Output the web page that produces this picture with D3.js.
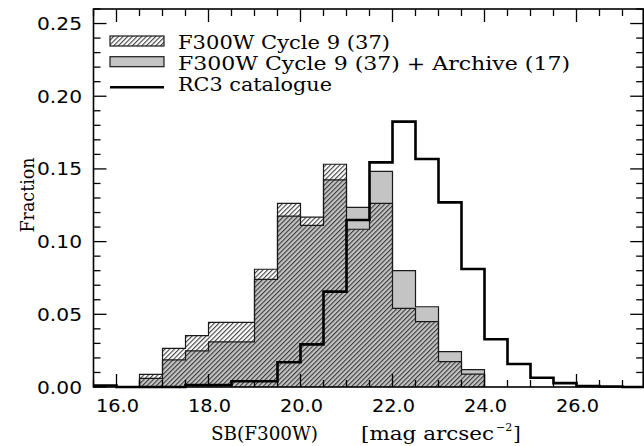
<!DOCTYPE html>
<html><head><meta charset="utf-8">
<script src="https://cdn.jsdelivr.net/npm/d3@7"></script>
<style>body{margin:0;background:#fff}</style>
</head><body>
<svg id="c" width="644" height="446" xmlns="http://www.w3.org/2000/svg"></svg>
<script>
// ---- data ----
const binStarts = [15.5,16.0,16.5,17.0,17.5,18.0,18.5,19.0,19.5,20.0,20.5,21.0,21.5,22.0,22.5,23.0,23.5,24.0,24.5,25.0,25.5,26.0,26.5,27.0];
const binWidth = 0.5;
const cycle9   = [0,0,0.0087,0.0266,0.0353,0.0445,0.0445,0.081,0.1263,0.1168,0.1532,0.1085,0.1263,0.0541,0.0449,0.0174,0.0089,0,0,0,0,0,0,0];
const combined = [0,0,0.0060,0.0186,0.0248,0.0310,0.0310,0.074,0.1176,0.1112,0.1424,0.1235,0.1483,0.0800,0.0552,0.0243,0.0120,0,0,0,0,0,0,0];
const rc3      = [0.001,0,0,0,0.0014,0.0014,0.004,0.004,0.017,0.0293,0.0656,0.1149,0.1545,0.1825,0.1568,0.127,0.0812,0.0328,0.0158,0.0064,0.0027,0.0007,0.0003,0];
const xMajor = [16,18,20,22,24,26];
const xMajorLabels = ["16.0","18.0","20.0","22.0","24.0","26.0"];
const yMajor = [0,0.05,0.10,0.15,0.20,0.25];
const yMajorLabels = ["0.00","0.05","0.10","0.15","0.20","0.25"];
const legendLabels = ["F300W Cycle 9 (37)","F300W Cycle 9 (37) + Archive (17)","RC3 catalogue"];

// ---- scales ----
const L=93.5, R=643.2, T=9, B=387;
const x = d3.scaleLinear().domain([15.5, 27.45]).range([L, R]);
const y = d3.scaleLinear().domain([0, 0.26]).range([B, T]);

const svg = d3.select("#c");
const defs = svg.append("defs");
const pat = defs.append("pattern").attr("id","hatch").attr("patternUnits","userSpaceOnUse")
  .attr("width",3.3).attr("height",10).attr("patternTransform","rotate(45)");
pat.append("line").attr("x1",0.6).attr("x2",0.6).attr("y1",-1).attr("y2",11)
  .attr("stroke","#222").attr("stroke-width",0.95);

function steps(vals, full){
  let idx = vals.map((v,i)=>i);
  if(!full){ idx = idx.filter(i=>vals[i]>0); }
  const i0 = idx[0], i1 = idx[idx.length-1];
  const pts = [[binStarts[i0],0]];
  for(let i=i0;i<=i1;i++){ pts.push([binStarts[i],vals[i]]); pts.push([binStarts[i]+binWidth,vals[i]]); }
  pts.push([binStarts[i1]+binWidth,0]);
  return pts;
}
const area = d3.area().x(d=>x(d[0])).y0(y(0)).y1(d=>y(d[1]));
const line = d3.line().x(d=>x(d[0])).y(d=>y(d[1]));

const plot = svg.append("g");
plot.append("path").attr("d",area(steps(combined))).attr("fill","#c4c4c4");
plot.append("path").attr("d",area(steps(cycle9))).attr("fill","url(#hatch)");
plot.append("path").attr("d",line(steps(combined))).attr("fill","none").attr("stroke","#1a1a1a").attr("stroke-width",1.2);
plot.append("path").attr("d",line(steps(cycle9))).attr("fill","none").attr("stroke","#1a1a1a").attr("stroke-width",1.2);
const rcPts = [];
binStarts.forEach((b,i)=>{ rcPts.push([b,rc3[i]]); rcPts.push([b+binWidth,rc3[i]]); });
plot.append("path").attr("d",line(rcPts)).attr("fill","none").attr("stroke","#000").attr("stroke-width",2.6).attr("stroke-linejoin","miter");

// ---- ticks ----
const tk = svg.append("g").attr("stroke","#000").attr("stroke-width",1.3);
const xMinor = d3.range(31,55).map(k=>k/2).filter(v=>v<=27.45);
xMinor.forEach(v=>{
  const len = (v%2===0)?13:7;
  tk.append("line").attr("x1",x(v)).attr("x2",x(v)).attr("y1",B).attr("y2",B-len);
  tk.append("line").attr("x1",x(v)).attr("x2",x(v)).attr("y1",T).attr("y2",T+len);
});
const yMinor = d3.range(0,27).map(k=>k/100).filter(v=>v<=0.26);
yMinor.forEach((v,k)=>{
  const len = (k%5===0)?13:7;
  tk.append("line").attr("y1",y(v)).attr("y2",y(v)).attr("x1",L).attr("x2",L+len);
  tk.append("line").attr("y1",y(v)).attr("y2",y(v)).attr("x1",R).attr("x2",R-len);
});
svg.append("rect").attr("x",L).attr("y",T).attr("width",R-L).attr("height",B-T)
  .attr("fill","none").attr("stroke","#000").attr("stroke-width",1.6);

// ---- tick labels ----
const sans = "'DejaVu Sans', sans-serif";
const serif = "'DejaVu Serif', serif";
xMajor.forEach((v,i)=>{
  svg.append("text").attr("x",x(v)+1).attr("y",412).attr("text-anchor","middle")
    .attr("font-family",sans).attr("font-size",17).attr("textLength",43).attr("lengthAdjust","spacingAndGlyphs")
    .text(xMajorLabels[i]);
});
yMajor.forEach((v,i)=>{
  svg.append("text").attr("x",37).attr("y",y(v)+6.5).attr("text-anchor","start")
    .attr("font-family",sans).attr("font-size",17).attr("textLength",45).attr("lengthAdjust","spacingAndGlyphs")
    .text(yMajorLabels[i]);
});

// ---- axis titles ----
const fs = 19;
svg.append("text").attr("x",211).attr("y",440).attr("font-family",serif).attr("font-size",fs)
  .attr("textLength",107).attr("lengthAdjust","spacingAndGlyphs").text("SB(F300W)");
const unit = svg.append("text").attr("x",361).attr("y",440).attr("font-family",serif).attr("font-size",fs);
unit.append("tspan").attr("textLength",133).attr("lengthAdjust","spacingAndGlyphs").text("[mag arcsec");
unit.append("tspan").attr("dx",2).attr("dy",-9).attr("font-size",11).text("−2");
unit.append("tspan").attr("dx",1).attr("dy",9).text("]");
svg.append("text").attr("transform","translate(33.5,195) rotate(-90)").attr("text-anchor","middle")
  .attr("font-family",serif).attr("font-size",fs).attr("textLength",75).attr("lengthAdjust","spacingAndGlyphs")
  .text("Fraction");

// ---- legend ----
const lg = svg.append("g");
lg.append("rect").attr("x",110).attr("y",36).attr("width",54).attr("height",10)
  .attr("fill","url(#hatch)").attr("stroke","#1a1a1a").attr("stroke-width",1.2);
lg.append("rect").attr("x",110).attr("y",56.7).attr("width",54).attr("height",10)
  .attr("fill","#c4c4c4").attr("stroke","#1a1a1a").attr("stroke-width",1.2);
lg.append("line").attr("x1",110).attr("x2",164).attr("y1",87.3).attr("y2",87.3)
  .attr("stroke","#000").attr("stroke-width",2.6);
const lgLen = [212, 392, 154];
const lgY = [48.5, 69.7, 91.3];
legendLabels.forEach((t,i)=>{
  lg.append("text").attr("x",178).attr("y",lgY[i]).attr("font-family",serif).attr("font-size",fs)
    .attr("textLength",lgLen[i]).attr("lengthAdjust","spacingAndGlyphs").text(t);
});
</script>
</body></html>
